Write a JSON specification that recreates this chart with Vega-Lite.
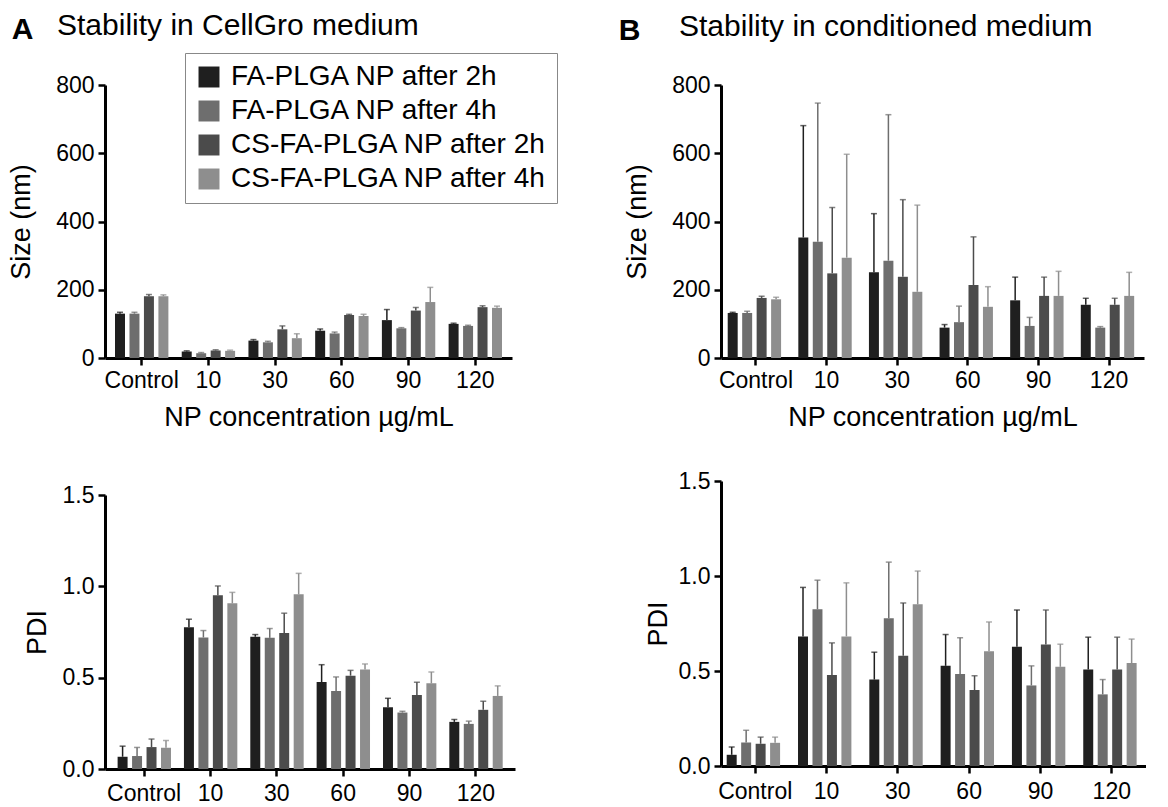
{
"$schema": "https://vega.github.io/schema/vega-lite/v6.json",
"background": "white",
"padding": {"left": 7, "top": 10, "right": 0, "bottom": 0},
"config": {
  "font": "Liberation Sans",
  "view": {"stroke": null},
  "axis": {"domainColor": "black", "domainWidth": 3, "tickColor": "black", "tickWidth": 2.5, "tickSize": 7, "labelFont": "Liberation Sans", "labelFontSize": 23, "labelColor": "black", "titleFont": "Liberation Sans", "titleFontSize": 27, "titleFontWeight": "normal", "titleColor": "black", "grid": false, "labelPadding": 4},
  "title": {"font": "Liberation Sans", "fontSize": 30, "fontWeight": "normal", "color": "black"},
  "legend": {"labelFont": "Liberation Sans", "labelFontSize": 28, "labelColor": "black", "labelLimit": 500}
},
"datasets": {
  "sizeA": [
    {"c": "Control", "g": "FA-PLGA NP after 2h", "v": 130, "hi": 134},
    {"c": "Control", "g": "FA-PLGA NP after 4h", "v": 130, "hi": 134},
    {"c": "Control", "g": "CS-FA-PLGA NP after 2h", "v": 181, "hi": 186},
    {"c": "Control", "g": "CS-FA-PLGA NP after 4h", "v": 181, "hi": 185},
    {"c": "10", "g": "FA-PLGA NP after 2h", "v": 19, "hi": 21},
    {"c": "10", "g": "FA-PLGA NP after 4h", "v": 14, "hi": 16},
    {"c": "10", "g": "CS-FA-PLGA NP after 2h", "v": 22, "hi": 24},
    {"c": "10", "g": "CS-FA-PLGA NP after 4h", "v": 21, "hi": 23},
    {"c": "30", "g": "FA-PLGA NP after 2h", "v": 51, "hi": 54},
    {"c": "30", "g": "FA-PLGA NP after 4h", "v": 46, "hi": 49},
    {"c": "30", "g": "CS-FA-PLGA NP after 2h", "v": 84, "hi": 94},
    {"c": "30", "g": "CS-FA-PLGA NP after 4h", "v": 58, "hi": 71},
    {"c": "60", "g": "FA-PLGA NP after 2h", "v": 80, "hi": 85},
    {"c": "60", "g": "FA-PLGA NP after 4h", "v": 72, "hi": 76},
    {"c": "60", "g": "CS-FA-PLGA NP after 2h", "v": 126, "hi": 128},
    {"c": "60", "g": "CS-FA-PLGA NP after 4h", "v": 123, "hi": 128},
    {"c": "90", "g": "FA-PLGA NP after 2h", "v": 111, "hi": 142},
    {"c": "90", "g": "FA-PLGA NP after 4h", "v": 87, "hi": 89},
    {"c": "90", "g": "CS-FA-PLGA NP after 2h", "v": 139, "hi": 148},
    {"c": "90", "g": "CS-FA-PLGA NP after 4h", "v": 164, "hi": 207},
    {"c": "120", "g": "FA-PLGA NP after 2h", "v": 100, "hi": 102},
    {"c": "120", "g": "FA-PLGA NP after 4h", "v": 94, "hi": 96},
    {"c": "120", "g": "CS-FA-PLGA NP after 2h", "v": 149, "hi": 153},
    {"c": "120", "g": "CS-FA-PLGA NP after 4h", "v": 147, "hi": 152}
  ],
  "sizeB": [
    {"c": "Control", "g": "FA-PLGA NP after 2h", "v": 132, "hi": 134},
    {"c": "Control", "g": "FA-PLGA NP after 4h", "v": 132, "hi": 137},
    {"c": "Control", "g": "CS-FA-PLGA NP after 2h", "v": 176, "hi": 181},
    {"c": "Control", "g": "CS-FA-PLGA NP after 4h", "v": 172, "hi": 178},
    {"c": "10", "g": "FA-PLGA NP after 2h", "v": 353, "hi": 681},
    {"c": "10", "g": "FA-PLGA NP after 4h", "v": 341, "hi": 747},
    {"c": "10", "g": "CS-FA-PLGA NP after 2h", "v": 248, "hi": 441},
    {"c": "10", "g": "CS-FA-PLGA NP after 4h", "v": 294, "hi": 597},
    {"c": "30", "g": "FA-PLGA NP after 2h", "v": 251, "hi": 423},
    {"c": "30", "g": "FA-PLGA NP after 4h", "v": 285, "hi": 713},
    {"c": "30", "g": "CS-FA-PLGA NP after 2h", "v": 238, "hi": 464},
    {"c": "30", "g": "CS-FA-PLGA NP after 4h", "v": 194, "hi": 448},
    {"c": "60", "g": "FA-PLGA NP after 2h", "v": 89, "hi": 98},
    {"c": "60", "g": "FA-PLGA NP after 4h", "v": 105, "hi": 152},
    {"c": "60", "g": "CS-FA-PLGA NP after 2h", "v": 214, "hi": 355},
    {"c": "60", "g": "CS-FA-PLGA NP after 4h", "v": 150, "hi": 209},
    {"c": "90", "g": "FA-PLGA NP after 2h", "v": 169, "hi": 237},
    {"c": "90", "g": "FA-PLGA NP after 4h", "v": 94, "hi": 119},
    {"c": "90", "g": "CS-FA-PLGA NP after 2h", "v": 182, "hi": 237},
    {"c": "90", "g": "CS-FA-PLGA NP after 4h", "v": 182, "hi": 254},
    {"c": "120", "g": "FA-PLGA NP after 2h", "v": 156, "hi": 175},
    {"c": "120", "g": "FA-PLGA NP after 4h", "v": 89, "hi": 92},
    {"c": "120", "g": "CS-FA-PLGA NP after 2h", "v": 156, "hi": 175},
    {"c": "120", "g": "CS-FA-PLGA NP after 4h", "v": 182, "hi": 251}
  ],
  "pdiA": [
    {"c": "Control", "g": "FA-PLGA NP after 2h", "v": 0.067, "hi": 0.125},
    {"c": "Control", "g": "FA-PLGA NP after 4h", "v": 0.071, "hi": 0.118},
    {"c": "Control", "g": "CS-FA-PLGA NP after 2h", "v": 0.12, "hi": 0.164},
    {"c": "Control", "g": "CS-FA-PLGA NP after 4h", "v": 0.116, "hi": 0.156},
    {"c": "10", "g": "FA-PLGA NP after 2h", "v": 0.776, "hi": 0.82},
    {"c": "10", "g": "FA-PLGA NP after 4h", "v": 0.72, "hi": 0.758},
    {"c": "10", "g": "CS-FA-PLGA NP after 2h", "v": 0.951, "hi": 1.002},
    {"c": "10", "g": "CS-FA-PLGA NP after 4h", "v": 0.907, "hi": 0.967},
    {"c": "30", "g": "FA-PLGA NP after 2h", "v": 0.724, "hi": 0.736},
    {"c": "30", "g": "FA-PLGA NP after 4h", "v": 0.718, "hi": 0.769},
    {"c": "30", "g": "CS-FA-PLGA NP after 2h", "v": 0.745, "hi": 0.853},
    {"c": "30", "g": "CS-FA-PLGA NP after 4h", "v": 0.956, "hi": 1.071},
    {"c": "60", "g": "FA-PLGA NP after 2h", "v": 0.476, "hi": 0.571},
    {"c": "60", "g": "FA-PLGA NP after 4h", "v": 0.427, "hi": 0.504},
    {"c": "60", "g": "CS-FA-PLGA NP after 2h", "v": 0.511, "hi": 0.54},
    {"c": "60", "g": "CS-FA-PLGA NP after 4h", "v": 0.545, "hi": 0.575},
    {"c": "90", "g": "FA-PLGA NP after 2h", "v": 0.338, "hi": 0.387},
    {"c": "90", "g": "FA-PLGA NP after 4h", "v": 0.309, "hi": 0.316},
    {"c": "90", "g": "CS-FA-PLGA NP after 2h", "v": 0.405, "hi": 0.475},
    {"c": "90", "g": "CS-FA-PLGA NP after 4h", "v": 0.469, "hi": 0.531},
    {"c": "120", "g": "FA-PLGA NP after 2h", "v": 0.258, "hi": 0.271},
    {"c": "120", "g": "FA-PLGA NP after 4h", "v": 0.247, "hi": 0.262},
    {"c": "120", "g": "CS-FA-PLGA NP after 2h", "v": 0.324, "hi": 0.371},
    {"c": "120", "g": "CS-FA-PLGA NP after 4h", "v": 0.4, "hi": 0.455}
  ],
  "pdiB": [
    {"c": "Control", "g": "FA-PLGA NP after 2h", "v": 0.059, "hi": 0.1},
    {"c": "Control", "g": "FA-PLGA NP after 4h", "v": 0.124, "hi": 0.188},
    {"c": "Control", "g": "CS-FA-PLGA NP after 2h", "v": 0.117, "hi": 0.152},
    {"c": "Control", "g": "CS-FA-PLGA NP after 4h", "v": 0.122, "hi": 0.152},
    {"c": "10", "g": "FA-PLGA NP after 2h", "v": 0.682, "hi": 0.94},
    {"c": "10", "g": "FA-PLGA NP after 4h", "v": 0.825, "hi": 0.978},
    {"c": "10", "g": "CS-FA-PLGA NP after 2h", "v": 0.479, "hi": 0.648},
    {"c": "10", "g": "CS-FA-PLGA NP after 4h", "v": 0.682, "hi": 0.964},
    {"c": "30", "g": "FA-PLGA NP after 2h", "v": 0.455, "hi": 0.599},
    {"c": "30", "g": "FA-PLGA NP after 4h", "v": 0.778, "hi": 1.073},
    {"c": "30", "g": "CS-FA-PLGA NP after 2h", "v": 0.58, "hi": 0.858},
    {"c": "30", "g": "CS-FA-PLGA NP after 4h", "v": 0.851, "hi": 1.026},
    {"c": "60", "g": "FA-PLGA NP after 2h", "v": 0.527, "hi": 0.692},
    {"c": "60", "g": "FA-PLGA NP after 4h", "v": 0.484, "hi": 0.675},
    {"c": "60", "g": "CS-FA-PLGA NP after 2h", "v": 0.4, "hi": 0.475},
    {"c": "60", "g": "CS-FA-PLGA NP after 4h", "v": 0.604, "hi": 0.758},
    {"c": "90", "g": "FA-PLGA NP after 2h", "v": 0.627, "hi": 0.821},
    {"c": "90", "g": "FA-PLGA NP after 4h", "v": 0.424, "hi": 0.527},
    {"c": "90", "g": "CS-FA-PLGA NP after 2h", "v": 0.639, "hi": 0.821},
    {"c": "90", "g": "CS-FA-PLGA NP after 4h", "v": 0.522, "hi": 0.641},
    {"c": "120", "g": "FA-PLGA NP after 2h", "v": 0.508, "hi": 0.678},
    {"c": "120", "g": "FA-PLGA NP after 4h", "v": 0.377, "hi": 0.455},
    {"c": "120", "g": "CS-FA-PLGA NP after 2h", "v": 0.508, "hi": 0.678},
    {"c": "120", "g": "CS-FA-PLGA NP after 4h", "v": 0.542, "hi": 0.668}
  ]
},
"spacing": 60,
"resolve": {"legend": {"color": "independent"}},
"hconcat": [
  {
    "title": {"text": "A", "anchor": "start", "fontWeight": "bold", "fontSize": 30, "dy": 38, "dx": 4},
    "spacing": 54,
    "resolve": {"legend": {"color": "independent"}},
    "vconcat": [
      {
        "width": 407, "height": 273,
        "data": {"name": "sizeA"},
        "title": {"text": "Stability in CellGro medium", "anchor": "start", "frame": "group", "dx": -48, "offset": 12},
        "encoding": {
          "x": {"field": "c", "type": "nominal", "sort": ["Control", "10", "30", "60", "90", "120"], "scale": {"paddingInner": 0.2, "paddingOuter": 0.15}, "axis": {"title": "NP concentration µg/mL", "labelAngle": 0, "titlePadding": 12}},
          "xOffset": {"field": "g", "type": "nominal", "sort": ["FA-PLGA NP after 2h", "FA-PLGA NP after 4h", "CS-FA-PLGA NP after 2h", "CS-FA-PLGA NP after 4h"], "scale": {"paddingInner": 0.31}},
          "y": {"field": "v", "type": "quantitative", "title": "Size (nm)", "scale": {"domain": [0, 800], "nice": false}, "axis": {"values": [0, 200, 400, 600, 800], "titlePadding": 20}}
        },
        "layer": [
          {"mark": {"type": "bar"},
           "encoding": {
             "color": {"field": "g", "type": "nominal", "sort": ["FA-PLGA NP after 2h", "FA-PLGA NP after 4h", "CS-FA-PLGA NP after 2h", "CS-FA-PLGA NP after 4h"], "scale": {"domain": ["FA-PLGA NP after 2h", "FA-PLGA NP after 4h", "CS-FA-PLGA NP after 2h", "CS-FA-PLGA NP after 4h"], "range": ["#1f1f1f", "#6e6e6e", "#4b4b4b", "#8e8e8e"]},
               "legend": {"title": null, "orient": "none", "legendX": 80, "legendY": -32, "strokeColor": "#888", "fillColor": "white", "padding": 10, "symbolType": "square", "symbolSize": 440, "symbolStrokeWidth": 0, "rowPadding": 6, "labelOffset": 8}}
           }},
          {"mark": {"type": "rule", "strokeWidth": 1.5},
           "encoding": {
             "y2": {"field": "hi"},
             "color": {"field": "g", "type": "nominal", "legend": null}
           }},
          {"mark": {"type": "tick", "thickness": 1.5, "size": 6},
           "encoding": {
             "y": {"field": "hi", "type": "quantitative", "title": "Size (nm)"},
             "color": {"field": "g", "type": "nominal", "legend": null}
           }}
        ]
      },
      {
        "width": 410, "height": 274,
        "data": {"name": "pdiA"},
        "encoding": {
          "x": {"field": "c", "type": "nominal", "sort": ["Control", "10", "30", "60", "90", "120"], "scale": {"paddingInner": 0.2, "paddingOuter": 0.19}, "axis": {"title": null, "labelAngle": 0, "labelPadding": 6}},
          "xOffset": {"field": "g", "type": "nominal", "sort": ["FA-PLGA NP after 2h", "FA-PLGA NP after 4h", "CS-FA-PLGA NP after 2h", "CS-FA-PLGA NP after 4h"], "scale": {"paddingInner": 0.31}},
          "y": {"field": "v", "type": "quantitative", "title": "PDI", "scale": {"domain": [0, 1.5], "nice": false}, "axis": {"values": [0, 0.5, 1, 1.5], "format": ".1f", "titlePadding": 11}},
          "color": {"field": "g", "type": "nominal", "sort": ["FA-PLGA NP after 2h", "FA-PLGA NP after 4h", "CS-FA-PLGA NP after 2h", "CS-FA-PLGA NP after 4h"], "scale": {"domain": ["FA-PLGA NP after 2h", "FA-PLGA NP after 4h", "CS-FA-PLGA NP after 2h", "CS-FA-PLGA NP after 4h"], "range": ["#1f1f1f", "#6e6e6e", "#4b4b4b", "#8e8e8e"]}, "legend": null}
        },
        "layer": [
          {"mark": {"type": "bar"}},
          {"mark": {"type": "rule", "strokeWidth": 1.5},
           "encoding": {"y2": {"field": "hi"}}},
          {"mark": {"type": "tick", "thickness": 1.5, "size": 6},
           "encoding": {"y": {"field": "hi", "type": "quantitative", "title": "PDI"}}}
        ]
      }
    ]
  },
  {
    "title": {"text": "B", "anchor": "start", "fontWeight": "bold", "fontSize": 30, "dy": 38, "dx": -5},
    "spacing": 40,
    "resolve": {"legend": {"color": "independent"}},
    "vconcat": [
      {
        "width": 423, "height": 273,
        "data": {"name": "sizeB"},
        "title": {"text": "Stability in conditioned medium", "anchor": "start", "frame": "group", "dx": -42, "offset": 32},
        "encoding": {
          "x": {"field": "c", "type": "nominal", "sort": ["Control", "10", "30", "60", "90", "120"], "scale": {"paddingInner": 0.2, "paddingOuter": 0.095}, "axis": {"title": "NP concentration µg/mL", "labelAngle": 0, "titlePadding": 12}},
          "xOffset": {"field": "g", "type": "nominal", "sort": ["FA-PLGA NP after 2h", "FA-PLGA NP after 4h", "CS-FA-PLGA NP after 2h", "CS-FA-PLGA NP after 4h"], "scale": {"paddingInner": 0.31}},
          "y": {"field": "v", "type": "quantitative", "title": "Size (nm)", "scale": {"domain": [0, 800], "nice": false}, "axis": {"values": [0, 200, 400, 600, 800], "titlePadding": 20}},
          "color": {"field": "g", "type": "nominal", "sort": ["FA-PLGA NP after 2h", "FA-PLGA NP after 4h", "CS-FA-PLGA NP after 2h", "CS-FA-PLGA NP after 4h"], "scale": {"domain": ["FA-PLGA NP after 2h", "FA-PLGA NP after 4h", "CS-FA-PLGA NP after 2h", "CS-FA-PLGA NP after 4h"], "range": ["#1f1f1f", "#6e6e6e", "#4b4b4b", "#8e8e8e"]}, "legend": null}
        },
        "layer": [
          {"mark": {"type": "bar"}},
          {"mark": {"type": "rule", "strokeWidth": 1.5},
           "encoding": {"y2": {"field": "hi"}}},
          {"mark": {"type": "tick", "thickness": 1.5, "size": 6},
           "encoding": {"y": {"field": "hi", "type": "quantitative", "title": "Size (nm)"}}}
        ]
      },
      {
        "width": 425, "height": 285,
        "data": {"name": "pdiB"},
        "encoding": {
          "x": {"field": "c", "type": "nominal", "sort": ["Control", "10", "30", "60", "90", "120"], "scale": {"paddingInner": 0.2, "paddingOuter": 0.08}, "axis": {"title": null, "labelAngle": 0, "labelPadding": 7}},
          "xOffset": {"field": "g", "type": "nominal", "sort": ["FA-PLGA NP after 2h", "FA-PLGA NP after 4h", "CS-FA-PLGA NP after 2h", "CS-FA-PLGA NP after 4h"], "scale": {"paddingInner": 0.31}},
          "y": {"field": "v", "type": "quantitative", "title": "PDI", "scale": {"domain": [0, 1.5], "nice": false}, "axis": {"values": [0, 0.5, 1, 1.5], "format": ".1f", "titlePadding": 6}},
          "color": {"field": "g", "type": "nominal", "sort": ["FA-PLGA NP after 2h", "FA-PLGA NP after 4h", "CS-FA-PLGA NP after 2h", "CS-FA-PLGA NP after 4h"], "scale": {"domain": ["FA-PLGA NP after 2h", "FA-PLGA NP after 4h", "CS-FA-PLGA NP after 2h", "CS-FA-PLGA NP after 4h"], "range": ["#1f1f1f", "#6e6e6e", "#4b4b4b", "#8e8e8e"]}, "legend": null}
        },
        "layer": [
          {"mark": {"type": "bar"}},
          {"mark": {"type": "rule", "strokeWidth": 1.5},
           "encoding": {"y2": {"field": "hi"}}},
          {"mark": {"type": "tick", "thickness": 1.5, "size": 6},
           "encoding": {"y": {"field": "hi", "type": "quantitative", "title": "PDI"}}}
        ]
      }
    ]
  }
]
}
